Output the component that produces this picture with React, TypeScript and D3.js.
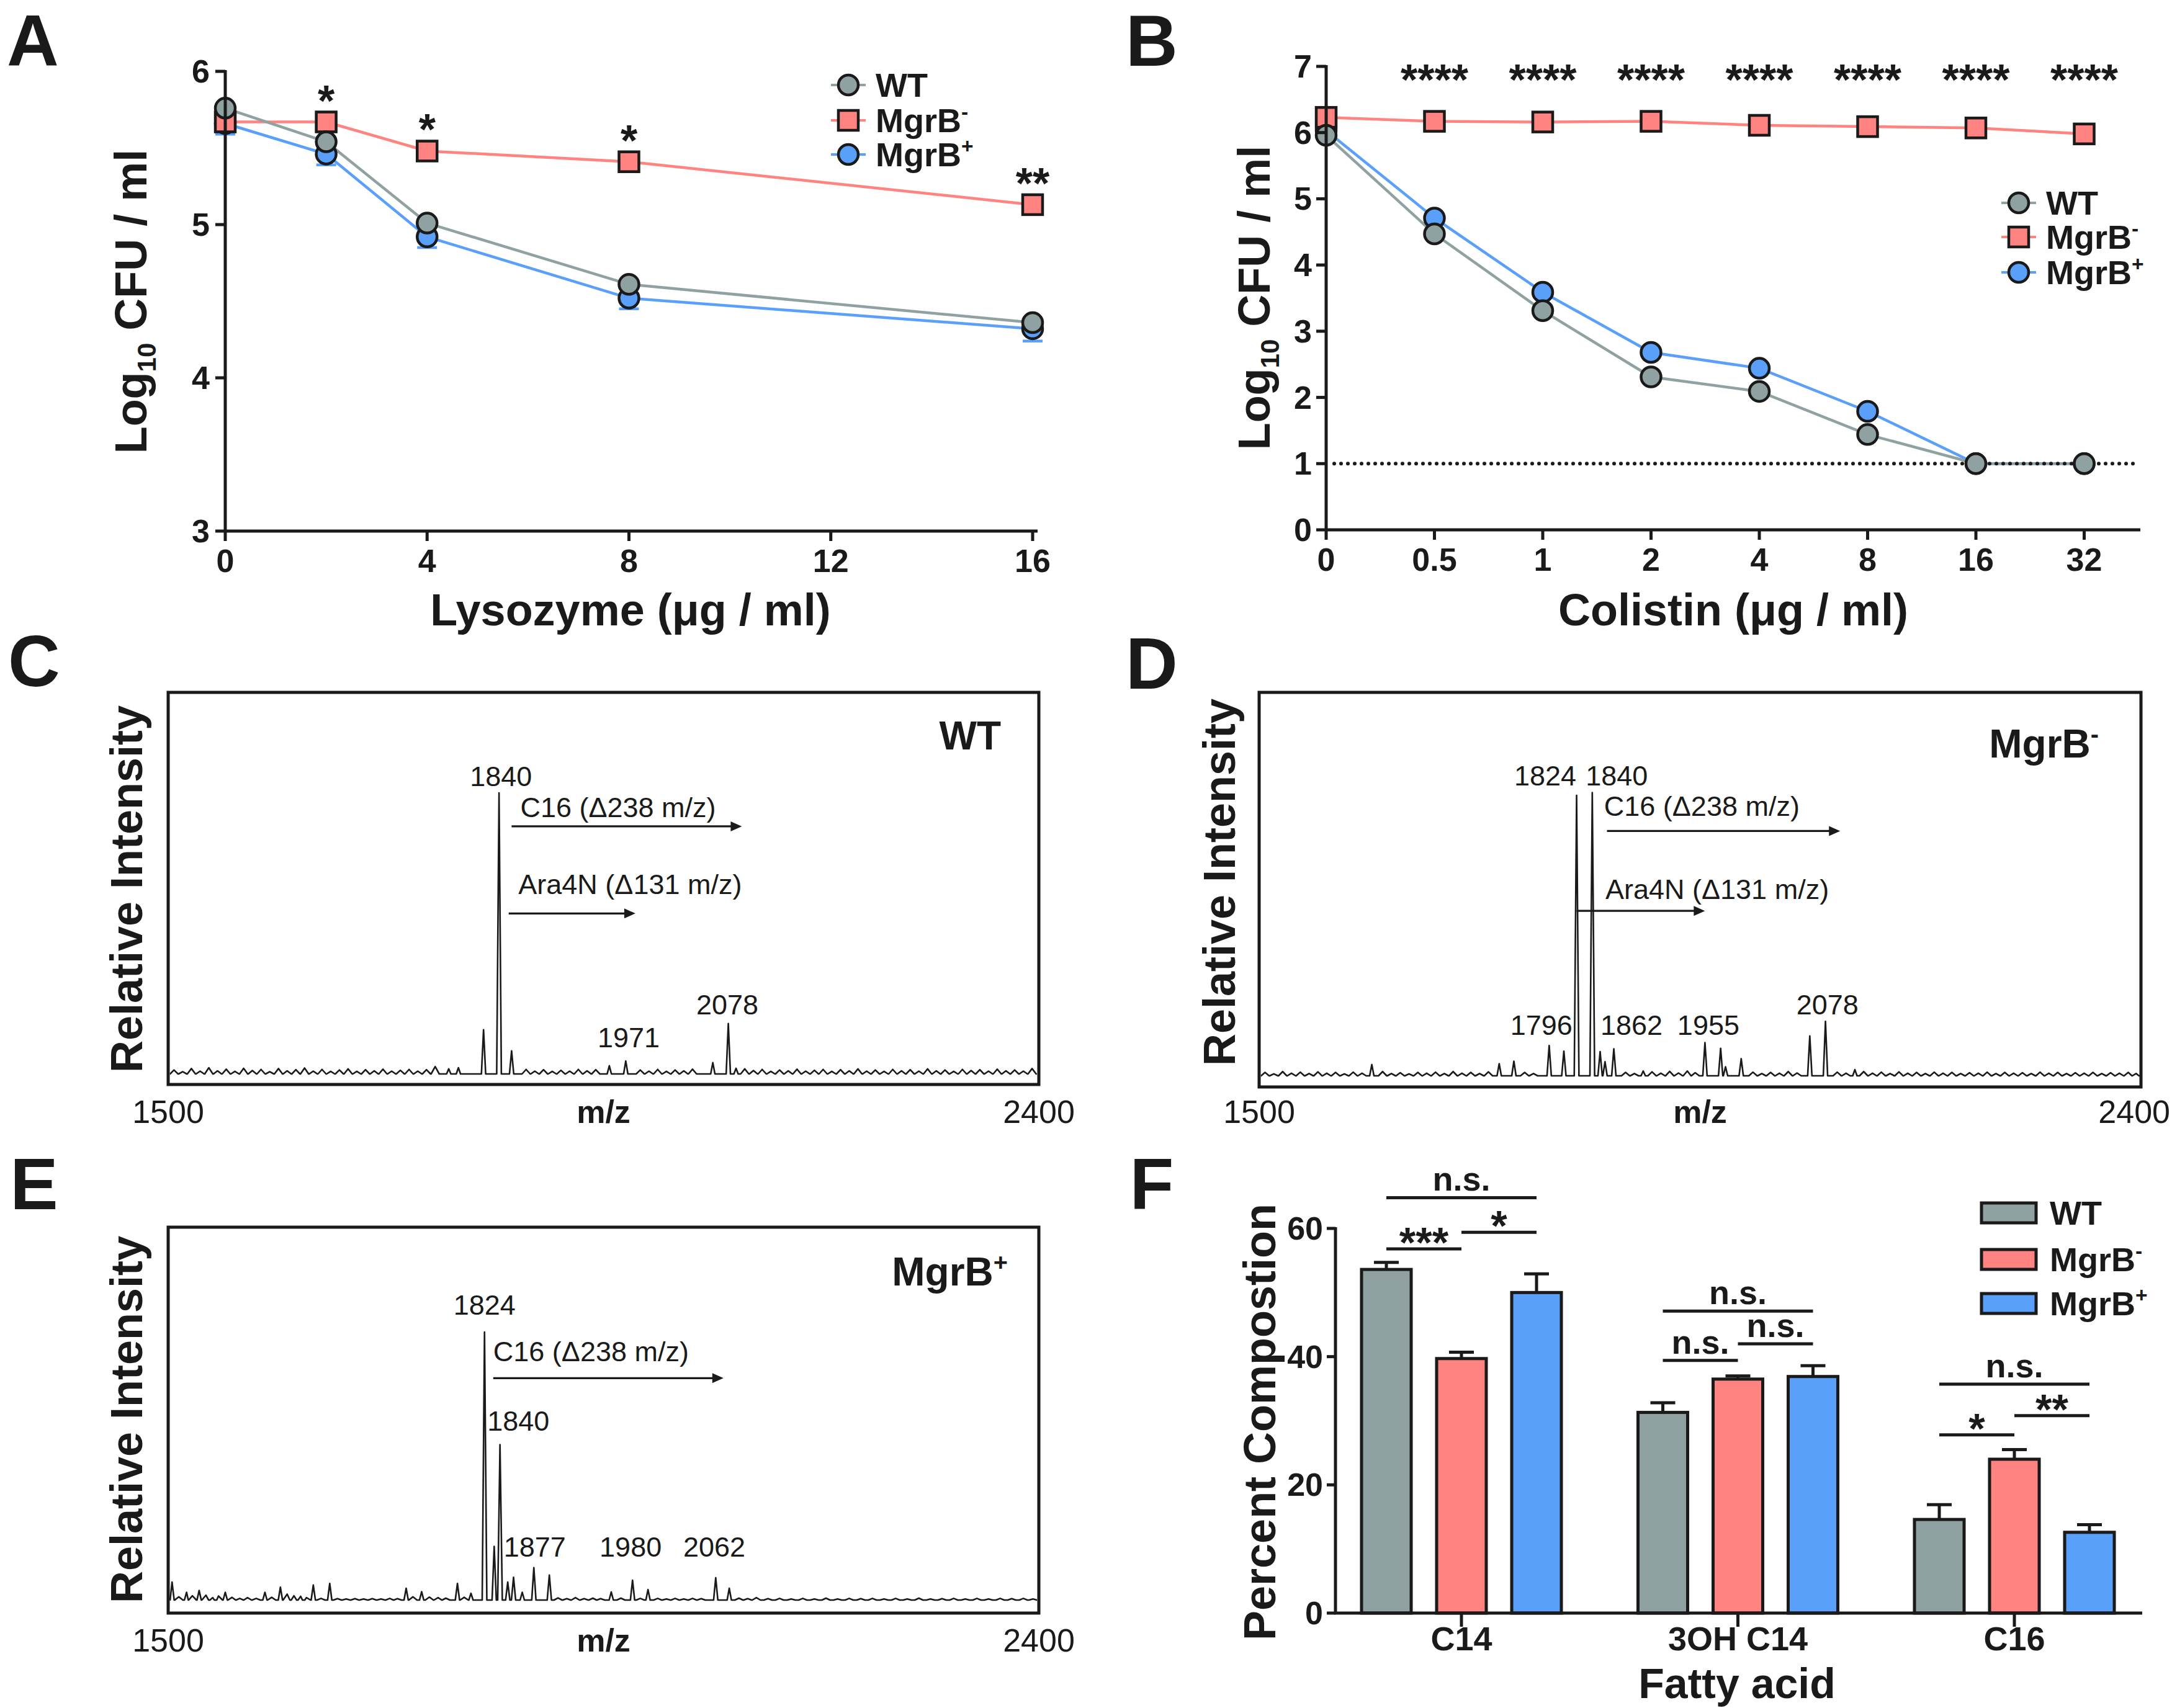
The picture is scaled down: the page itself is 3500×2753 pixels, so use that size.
import React from 'react';
import * as d3 from 'd3';

// ---------------- Panel A : lysozyme ----------------
const lysozymeDoses = [0, 2, 4, 8, 16];
const lysozymeWT = [5.76, 5.54, 5.01, 4.61, 4.36];
const lysozymeMgrBminus = [5.67, 5.67, 5.48, 5.41, 5.13];
const lysozymeMgrBplus = [5.66, 5.46, 4.92, 4.52, 4.32];
const lysozymeMgrBplusErr = [0.07, 0.07, 0.07, 0.07, 0.08];
const lysozymeStars = ['', '*', '*', '*', '**'];
const lysozymeXTicks = [0, 4, 8, 12, 16];
const lysozymeYTicks = [3, 4, 5, 6];

// ---------------- Panel B : colistin ----------------
const colistinDoses = ['0', '0.5', '1', '2', '4', '8', '16', '32'];
const colistinWT = [5.96, 4.47, 3.31, 2.31, 2.09, 1.44, 1.0, 1.0];
const colistinMgrBminus = [6.23, 6.17, 6.16, 6.17, 6.11, 6.09, 6.07, 5.98];
const colistinMgrBplus = [6.03, 4.71, 3.59, 2.68, 2.44, 1.79, 1.0, 1.0];
const colistinStars = ['', '****', '****', '****', '****', '****', '****', '****'];
const colistinYTicks = [0, 1, 2, 3, 4, 5, 6, 7];
const detectionLimit = 1;

// ---------------- Spectra (m/z, relative intensity) ----------------
const spectrumWTPeaks: [number, number][] = [
  [1790, 1.8], [1800, 2.2], [1826, 15.7], [1842, 100], [1855, 8.2],
  [1956, 2.9], [1973, 4.6], [2063, 4.0], [2079, 17.9], [2087, 2.0],
];
const spectrumWTNoise: [number, number][] = [
  [1506, 1.4], [1515, 0.8], [1524, 1.9], [1533, 1.0], [1542, 2.2], [1551, 1.1], [1560, 1.7], [1569, 0.9],
  [1578, 2.0], [1587, 1.2], [1596, 1.6], [1605, 0.8], [1614, 1.9], [1623, 1.1], [1632, 1.5], [1641, 2.1],
  [1650, 1.0], [1659, 1.6], [1668, 0.9], [1677, 1.4], [1686, 1.8], [1695, 0.9], [1704, 1.5], [1713, 1.1],
  [1722, 1.7], [1731, 1.0], [1740, 1.3], [1749, 1.6], [1758, 1.0], [1767, 1.5], [1776, 2.6], [1870, 1.6],
  [1879, 1.0], [1888, 1.5], [1897, 0.9], [1906, 1.3], [1915, 1.0], [1924, 1.6], [1933, 1.1], [1942, 1.5],
  [1988, 1.4], [1997, 1.0], [2006, 1.6], [2015, 0.9], [2024, 1.4], [2033, 1.1], [2042, 1.7], [2096, 1.8],
  [2105, 1.2], [2114, 1.6], [2123, 0.9], [2132, 1.4], [2141, 1.1], [2150, 1.7], [2159, 1.0], [2168, 1.3],
  [2177, 1.6], [2186, 0.9], [2195, 1.5], [2204, 1.1], [2213, 1.8], [2222, 1.0], [2231, 1.4], [2240, 0.9],
  [2249, 1.6], [2258, 1.1], [2267, 1.5], [2276, 1.0], [2285, 1.8], [2294, 1.1], [2303, 1.4], [2312, 0.9],
  [2321, 1.6], [2330, 1.2], [2339, 1.5], [2348, 1.0], [2357, 1.7], [2366, 1.1], [2375, 1.4], [2384, 1.0],
  [2393, 1.9],
];

const spectrumMinusPeaks: [number, number][] = [
  [1615, 4.0], [1745, 4.3], [1760, 5.2], [1796, 10.8], [1811, 8.8], [1824, 100], [1840, 101],
  [1848, 8.6], [1853, 5.0], [1862, 9.6], [1892, 1.7], [1955, 11.8], [1971, 9.8], [1976, 3.2],
  [1992, 6.1], [2062, 14.2], [2078, 19.4], [2108, 2.2],
];
const spectrumMinusNoise: [number, number][] = [
  [1506, 1.2], [1515, 0.7], [1524, 1.5], [1533, 0.9], [1542, 1.3], [1551, 0.8], [1560, 1.4], [1569, 0.9],
  [1578, 1.2], [1587, 0.7], [1596, 1.3], [1605, 0.9], [1626, 1.5], [1635, 0.8], [1644, 1.1], [1653, 0.7],
  [1662, 1.2], [1671, 0.9], [1680, 1.3], [1689, 0.8], [1698, 1.5], [1707, 0.9], [1716, 1.2], [1725, 0.8],
  [1734, 1.4], [1771, 1.2], [1780, 0.8], [1874, 1.2], [1883, 0.8], [1901, 1.4], [1910, 0.9], [1919, 1.6],
  [1928, 1.0], [1937, 1.7], [1945, 1.1], [2004, 1.3], [2013, 0.8], [2022, 1.2], [2031, 0.9], [2040, 1.5],
  [2049, 1.0], [2090, 1.3], [2099, 0.9], [2117, 1.5], [2126, 0.9], [2135, 1.3], [2144, 0.8], [2153, 1.4],
  [2162, 0.9], [2171, 1.2], [2180, 0.8], [2189, 1.3], [2198, 0.9], [2207, 1.2], [2216, 0.8], [2225, 1.1],
  [2234, 0.9], [2243, 1.3], [2252, 0.8], [2261, 1.2], [2270, 0.9], [2279, 1.1], [2288, 0.8], [2297, 1.3],
  [2306, 0.9], [2315, 1.2], [2324, 0.8], [2333, 1.1], [2342, 0.9], [2351, 1.2], [2360, 0.8], [2369, 1.1],
  [2378, 0.9], [2387, 1.2], [2395, 0.8],
];

const spectrumPlusPeaks: [number, number][] = [
  [1504, 6.7], [1519, 2.9], [1532, 3.6], [1559, 2.9], [1600, 2.9], [1616, 4.8], [1650, 5.6], [1667, 6.2],
  [1746, 4.4], [1762, 3.1], [1799, 6.2], [1813, 2.5], [1827, 100], [1837, 20], [1843, 58], [1851, 6.7],
  [1857, 8.5], [1866, 2.9], [1878, 12.1], [1894, 9.3], [1958, 3.0], [1980, 7.4], [1996, 3.9],
  [2066, 8.3], [2080, 4.4],
];
const spectrumPlusNoise: [number, number][] = [
  [1511, 1.2], [1525, 1.6], [1539, 1.8], [1546, 0.9], [1552, 1.5], [1566, 1.0], [1574, 0.6], [1582, 0.9],
  [1591, 0.6], [1607, 1.0], [1623, 2.2], [1630, 1.6], [1637, 1.4], [1643, 0.9], [1658, 0.6], [1675, 0.5],
  [1684, 0.4], [1693, 0.5], [1702, 0.4], [1711, 0.5], [1720, 0.4], [1729, 0.6], [1737, 0.5], [1753, 1.2],
  [1770, 1.1], [1779, 0.9], [1787, 0.7], [1806, 1.0], [1903, 0.8], [1912, 0.5], [1921, 0.9], [1930, 0.5],
  [1939, 0.7], [1947, 0.5], [1968, 0.7], [1988, 0.6], [2006, 0.6], [2015, 0.4], [2024, 0.6], [2033, 0.4],
  [2042, 0.6], [2051, 0.5], [2090, 0.7], [2099, 0.5], [2108, 0.9], [2120, 0.5], [2132, 0.6], [2144, 0.4],
  [2156, 0.6], [2168, 0.4], [2180, 0.7], [2192, 0.4], [2204, 0.6], [2216, 0.5], [2228, 0.6], [2240, 0.4],
  [2252, 0.6], [2264, 0.4], [2276, 0.7], [2288, 0.4], [2300, 0.5], [2312, 0.6], [2324, 0.4], [2336, 0.6],
  [2348, 0.4], [2360, 0.6], [2372, 0.5], [2384, 0.6], [2394, 0.4],
];

// ---------------- Panel F : fatty acids ----------------
const fattyAcids = ['C14', '3OH C14', 'C16'];
const strains = ['WT', 'MgrB-', 'MgrB+'];
const compositionWT = [53.6, 31.3, 14.6];
const compositionWTErr = [1.1, 1.5, 2.3];
const compositionMinus = [39.7, 36.5, 24.0];
const compositionMinusErr = [1.0, 0.5, 1.5];
const compositionPlus = [50.0, 36.9, 12.6];
const compositionPlusErr = [2.9, 1.7, 1.2];
const compositionYTicks = [0, 20, 40, 60];
const compositionBrackets = [
  { group: 'C14', from: 'WT', to: 'MgrB+', level: 64.8, label: 'n.s.' },
  { group: 'C14', from: 'WT', to: 'MgrB-', level: 56.8, label: '***' },
  { group: 'C14', from: 'MgrB-', to: 'MgrB+', level: 59.4, label: '*' },
  { group: '3OH C14', from: 'WT', to: 'MgrB+', level: 47.1, label: 'n.s.' },
  { group: '3OH C14', from: 'WT', to: 'MgrB-', level: 39.4, label: 'n.s.' },
  { group: '3OH C14', from: 'MgrB-', to: 'MgrB+', level: 42.0, label: 'n.s.' },
  { group: 'C16', from: 'WT', to: 'MgrB+', level: 35.7, label: 'n.s.' },
  { group: 'C16', from: 'WT', to: 'MgrB-', level: 27.8, label: '*' },
  { group: 'C16', from: 'MgrB-', to: 'MgrB+', level: 30.8, label: '**' },
];

// ---------------- styles ----------------
const FONT = "'Liberation Sans', Arial, Helvetica, sans-serif";
const INK = '#1a1a1a';
const GRAY = '#8fa2a1';
const RED = '#ff8380';
const BLUE = '#5a9ff9';
const colorOf: Record<string, string> = { 'WT': GRAY, 'MgrB-': RED, 'MgrB+': BLUE };

function StrainText({ name, fs }: { name: string; fs: number }) {
  const last = name[name.length - 1];
  if (last === '-' || last === '+') {
    return (
      <>
        {name.slice(0, -1)}
        <tspan dy={-fs * 0.38} fontSize={fs * 0.62}>{last}</tspan>
      </>
    );
  }
  return <>{name}</>;
}

function Marker({ shape, x, y, fill }: { shape: string; x: number; y: number; fill: string }) {
  if (shape === 'square') {
    return <rect x={x - 16} y={y - 16} width={32} height={32} fill={fill} stroke={INK} strokeWidth={4.5} />;
  }
  return <circle cx={x} cy={y} r={16} fill={fill} stroke={INK} strokeWidth={4.5} />;
}

function PanelLetter({ t, x, y }: { t: string; x: number; y: number }) {
  return (
    <text x={x} y={y} fontSize={116} fontWeight={700} textAnchor="middle" fill={INK}>{t}</text>
  );
}

function YTitleLog({ x, y }: { x: number; y: number }) {
  return (
    <text transform={`translate(${x},${y}) rotate(-90)`} textAnchor="middle" fontSize={72} fontWeight={700} fill={INK}>
      Log<tspan dy={15} fontSize={42}>10</tspan><tspan dy={-15}> CFU / ml</tspan>
    </text>
  );
}

function LineLegend({ x, ys, items }: { x: number; ys: number[]; items: { name: string; shape: string }[] }) {
  return (
    <g>
      {items.map((it, i) => (
        <g key={it.name}>
          <line x1={x - 28} x2={x + 28} y1={ys[i]} y2={ys[i]} stroke={colorOf[it.name]} strokeWidth={4} />
          <Marker shape={it.shape} x={x} y={ys[i]} fill={colorOf[it.name]} />
          <text x={x + 44} y={ys[i] + 19} fontSize={54} fontWeight={700} fill={INK}>
            <StrainText name={it.name} fs={54} />
          </text>
        </g>
      ))}
    </g>
  );
}

function PanelA() {
  const x = d3.scaleLinear().domain([0, 16]).range([363, 1664]);
  const y = d3.scaleLinear().domain([3, 6]).range([856, 115]);
  const series = [
    { name: 'MgrB+', vals: lysozymeMgrBplus, shape: 'circle', err: lysozymeMgrBplusErr },
    { name: 'MgrB-', vals: lysozymeMgrBminus, shape: 'square', err: null as number[] | null },
    { name: 'WT', vals: lysozymeWT, shape: 'circle', err: null as number[] | null },
  ];
  const line = (vals: number[]) =>
    d3.line<number>().x((_, i) => x(lysozymeDoses[i])).y((d) => y(d))(vals) || '';
  return (
    <g>
      {series.map((s) => (
        <path key={s.name} d={line(s.vals)} fill="none" stroke={colorOf[s.name]} strokeWidth={4.5} />
      ))}
      {series.map((s) =>
        s.err
          ? s.vals.map((v, i) => (
              <g key={s.name + i} stroke={colorOf[s.name]} strokeWidth={4.5}>
                <line x1={x(lysozymeDoses[i])} x2={x(lysozymeDoses[i])} y1={y(v - s.err![i])} y2={y(v + s.err![i])} />
                <line x1={x(lysozymeDoses[i]) - 16} x2={x(lysozymeDoses[i]) + 16} y1={y(v - s.err![i])} y2={y(v - s.err![i])} />
              </g>
            ))
          : null
      )}
      {series.map((s) =>
        s.vals.map((v, i) => (
          <Marker key={s.name + 'm' + i} shape={s.shape} x={x(lysozymeDoses[i])} y={y(v)} fill={colorOf[s.name]} />
        ))
      )}
      {lysozymeStars.map((st, i) =>
        st ? (
          <text key={'st' + i} x={x(lysozymeDoses[i])} y={y(lysozymeMgrBminus[i]) - 50 + 40} fontSize={70} fontWeight={700} textAnchor="middle" fill={INK}>{st}</text>
        ) : null
      )}
      <line x1={363} x2={363} y1={y(3)} y2={y(6) - 2} stroke={INK} strokeWidth={5} />
      <line x1={361} x2={1672} y1={y(3)} y2={y(3)} stroke={INK} strokeWidth={5} />
      {lysozymeYTicks.map((t) => (
        <g key={'yt' + t}>
          <line x1={347} x2={363} y1={y(t)} y2={y(t)} stroke={INK} strokeWidth={5} />
          <text x={338} y={y(t) + 18} fontSize={52} fontWeight={700} textAnchor="end" fill={INK}>{t}</text>
        </g>
      ))}
      {lysozymeXTicks.map((t) => (
        <g key={'xt' + t}>
          <line x1={x(t)} x2={x(t)} y1={y(3)} y2={y(3) + 16} stroke={INK} strokeWidth={5} />
          <text x={x(t)} y={922} fontSize={52} fontWeight={700} textAnchor="middle" fill={INK}>{t}</text>
        </g>
      ))}
      <text x={1016} y={1008} fontSize={72} fontWeight={700} textAnchor="middle" fill={INK}>Lysozyme (μg / ml)</text>
      <YTitleLog x={236} y={486} />
      <LineLegend x={1367} ys={[137, 194, 249]} items={[{ name: 'WT', shape: 'circle' }, { name: 'MgrB-', shape: 'square' }, { name: 'MgrB+', shape: 'circle' }]} />
    </g>
  );
}

function PanelB() {
  const x = d3.scalePoint<string>().domain(colistinDoses).range([2137, 3358.5]);
  const y = d3.scaleLinear().domain([0, 7]).range([854, 107]);
  const series = [
    { name: 'MgrB+', vals: colistinMgrBplus, shape: 'circle' },
    { name: 'MgrB-', vals: colistinMgrBminus, shape: 'square' },
    { name: 'WT', vals: colistinWT, shape: 'circle' },
  ];
  const line = (vals: number[]) =>
    d3.line<number>().x((_, i) => x(colistinDoses[i])!).y((d) => y(d))(vals) || '';
  return (
    <g>
      {series.map((s) => (
        <path key={s.name} d={line(s.vals)} fill="none" stroke={colorOf[s.name]} strokeWidth={4.5} />
      ))}
      <line x1={2150} x2={3441} y1={y(detectionLimit)} y2={y(detectionLimit)} stroke={INK} strokeWidth={6} strokeDasharray="0 11" strokeLinecap="round" />
      {series.map((s) =>
        s.vals.map((v, i) => (
          <Marker key={s.name + 'm' + i} shape={s.shape} x={x(colistinDoses[i])!} y={y(v)} fill={colorOf[s.name]} />
        ))
      )}
      {colistinStars.map((st, i) =>
        st ? (
          <text key={'st' + i} x={x(colistinDoses[i])!} y={153} fontSize={70} fontWeight={700} textAnchor="middle" fill={INK}>{st}</text>
        ) : null
      )}
      <line x1={2137} x2={2137} y1={y(0)} y2={y(7) - 2} stroke={INK} strokeWidth={5} />
      <line x1={2135} x2={3449} y1={y(0)} y2={y(0)} stroke={INK} strokeWidth={5} />
      {colistinYTicks.map((t) => (
        <g key={'yt' + t}>
          <line x1={2121} x2={2137} y1={y(t)} y2={y(t)} stroke={INK} strokeWidth={5} />
          <text x={2114} y={y(t) + 18} fontSize={52} fontWeight={700} textAnchor="end" fill={INK}>{t}</text>
        </g>
      ))}
      {colistinDoses.map((t) => (
        <g key={'xt' + t}>
          <line x1={x(t)!} x2={x(t)!} y1={y(0)} y2={y(0) + 16} stroke={INK} strokeWidth={5} />
          <text x={x(t)!} y={920} fontSize={52} fontWeight={700} textAnchor="middle" fill={INK}>{t}</text>
        </g>
      ))}
      <text x={2793} y={1008} fontSize={72} fontWeight={700} textAnchor="middle" fill={INK}>Colistin (μg / ml)</text>
      <YTitleLog x={2046} y={480} />
      <LineLegend x={3253} ys={[327, 382, 439]} items={[{ name: 'WT', shape: 'circle' }, { name: 'MgrB-', shape: 'square' }, { name: 'MgrB+', shape: 'circle' }]} />
    </g>
  );
}

type Ann = { text: string; mz: number; i: number };
type Arr = { label: string; start: number; delta: number; i: number; labelMz: number; labelI: number };

function Spectrum(props: {
  box: { x0: number; x1: number; y0: number; y1: number };
  base: number; top: number; tickY: number; rightTickEnd?: number;
  peaks: [number, number][]; noise: [number, number][];
  labels: Ann[]; arrows: Arr[];
  title: string; titleRight: number; titleY: number;
  yLabelX: number; yLabelY: number;
}) {
  const { box } = props;
  const x = d3.scaleLinear().domain([1500, 2400]).range([box.x0, box.x1]);
  const y = d3.scaleLinear().domain([0, 100]).range([props.base, props.top]);
  const items = [
    ...props.peaks.map((p) => ({ mz: p[0], h: p[1], w: p[1] > 50 ? 2.4 : 2.2 })),
    ...props.noise.map((p) => ({ mz: p[0], h: p[1], w: 4.2 })),
  ].sort((a, b) => a.mz - b.mz);
  const pts: [number, number][] = [[1502, 0]];
  items.forEach((p) => {
    pts.push([p.mz - p.w, 0], [p.mz, p.h], [p.mz + p.w, 0]);
  });
  pts.push([2398, 0]);
  pts.sort((a, b) => a[0] - b[0]);
  const path = d3.line<[number, number]>().x((d) => x(d[0])).y((d) => y(d[1]))(pts) || '';
  return (
    <g>
      <rect x={box.x0} y={box.y0} width={box.x1 - box.x0} height={box.y1 - box.y0} fill="none" stroke={INK} strokeWidth={5} />
      <path d={path} fill="none" stroke={INK} strokeWidth={2.6} strokeLinejoin="round" />
      {props.labels.map((l) => (
        <text key={l.text + l.mz} x={x(l.mz)} y={y(l.i)} fontSize={45} textAnchor="middle" fill={INK}>{l.text}</text>
      ))}
      {props.arrows.map((a) => {
        const x1 = x(a.start), x2 = x(a.start + a.delta), yy = y(a.i);
        return (
          <g key={a.label}>
            <text x={x(a.labelMz)} y={y(a.labelI)} fontSize={45} fill={INK}>{a.label}</text>
            <line x1={x1} x2={x2 - 12} y1={yy} y2={yy} stroke={INK} strokeWidth={3.2} />
            <path d={`M${x2},${yy} L${x2 - 18},${yy - 8} L${x2 - 18},${yy + 8} Z`} fill={INK} />
          </g>
        );
      })}
      <text x={props.titleRight} y={props.titleY} fontSize={64} fontWeight={700} textAnchor="end" fill={INK}>
        <StrainText name={props.title} fs={64} />
      </text>
      <text x={box.x0} y={props.tickY} fontSize={52} textAnchor="middle" fill={INK}>1500</text>
      {props.rightTickEnd ? (
        <text x={props.rightTickEnd} y={props.tickY} fontSize={52} textAnchor="end" fill={INK}>2400</text>
      ) : (
        <text x={box.x1} y={props.tickY} fontSize={52} textAnchor="middle" fill={INK}>2400</text>
      )}
      <text x={(box.x0 + box.x1) / 2} y={props.tickY} fontSize={52} fontWeight={700} textAnchor="middle" fill={INK}>m/z</text>
      <text transform={`translate(${props.yLabelX},${props.yLabelY}) rotate(-90)`} fontSize={72} fontWeight={700} textAnchor="middle" fill={INK}>Relative Intensity</text>
    </g>
  );
}

function PanelF() {
  const xg = d3.scalePoint<string>().domain(fattyAcids).range([2355, 3246]);
  const xs = d3.scalePoint<string>().domain(strains).range([-121, 121]);
  const y = d3.scaleLinear().domain([0, 60]).range([2600, 1980]);
  const vals: Record<string, number[]> = { 'WT': compositionWT, 'MgrB-': compositionMinus, 'MgrB+': compositionPlus };
  const errs: Record<string, number[]> = { 'WT': compositionWTErr, 'MgrB-': compositionMinusErr, 'MgrB+': compositionPlusErr };
  const bw = 80;
  return (
    <g>
      {fattyAcids.map((g, gi) =>
        strains.map((s) => {
          const cx = xg(g)! + xs(s)!;
          const v = vals[s][gi];
          const e = errs[s][gi];
          return (
            <g key={g + s}>
              <line x1={cx} x2={cx} y1={y(v)} y2={y(v + e)} stroke={INK} strokeWidth={5} />
              <line x1={cx - 20} x2={cx + 20} y1={y(v + e)} y2={y(v + e)} stroke={INK} strokeWidth={5} />
              <rect x={cx - bw / 2} y={y(v)} width={bw} height={y(0) - y(v)} fill={colorOf[s]} stroke={INK} strokeWidth={5} />
            </g>
          );
        })
      )}
      {compositionBrackets.map((b, i) => {
        const x1 = xg(b.group)! + xs(b.from)!;
        const x2 = xg(b.group)! + xs(b.to)!;
        const yy = y(b.level);
        const isStar = b.label.includes('*');
        return (
          <g key={'br' + i}>
            <line x1={x1} x2={x2} y1={yy} y2={yy} stroke={INK} strokeWidth={5} />
            <text x={(x1 + x2) / 2} y={isStar ? yy - 26 + 39 : yy - 11} fontSize={isStar ? 68 : 54} fontWeight={700} textAnchor="middle" fill={INK}>{b.label}</text>
          </g>
        );
      })}
      <line x1={2152} x2={2152} y1={y(0)} y2={y(60) - 2} stroke={INK} strokeWidth={5} />
      <line x1={2150} x2={3452} y1={y(0)} y2={y(0)} stroke={INK} strokeWidth={5} />
      {compositionYTicks.map((t) => (
        <g key={'yt' + t}>
          <line x1={2138} x2={2152} y1={y(t)} y2={y(t)} stroke={INK} strokeWidth={5} />
          <text x={2132} y={y(t) + 18} fontSize={52} fontWeight={700} textAnchor="end" fill={INK}>{t}</text>
        </g>
      ))}
      {fattyAcids.map((g) => (
        <g key={'xt' + g}>
          <line x1={xg(g)!} x2={xg(g)!} y1={y(0)} y2={y(0) + 22} stroke={INK} strokeWidth={5} />
          <text x={xg(g)!} y={2660} fontSize={54} fontWeight={700} textAnchor="middle" fill={INK}>{g}</text>
        </g>
      ))}
      <text x={2799} y={2737} fontSize={68} fontWeight={700} textAnchor="middle" fill={INK}>Fatty acid</text>
      <text transform="translate(2055,2292) rotate(-90)" fontSize={72} fontWeight={700} textAnchor="middle" fill={INK}>Percent Compostion</text>
      {strains.map((s, i) => {
        const ly = [1955, 2030, 2101][i];
        return (
          <g key={'lg' + s}>
            <rect x={3193} y={ly - 16} width={88} height={32} fill={colorOf[s]} stroke={INK} strokeWidth={5} />
            <text x={3303} y={ly + 19} fontSize={54} fontWeight={700} fill={INK}>
              <StrainText name={s} fs={54} />
            </text>
          </g>
        );
      })}
    </g>
  );
}

export default function App() {
  return (
    <svg width={3500} height={2753} style={{ position: 'absolute', left: 0, top: 0, background: '#fff' }} fontFamily={FONT}>
      <rect x={0} y={0} width={3500} height={2753} fill="#fff" />
      <PanelLetter t="A" x={53} y={106} />
      <PanelLetter t="B" x={1856} y={106} />
      <PanelLetter t="C" x={55} y={1106} />
      <PanelLetter t="D" x={1856} y={1110} />
      <PanelLetter t="E" x={55} y={1949} />
      <PanelLetter t="F" x={1856} y={1949} />
      <PanelA />
      <PanelB />
      <Spectrum
        box={{ x0: 271, x1: 1674, y0: 1116, y1: 1748 }} base={1731} top={1278} tickY={1810}
        peaks={spectrumWTPeaks} noise={spectrumWTNoise}
        labels={[{ text: '1840', mz: 1844, i: 102.4 }, { text: '1971', mz: 1976, i: 9.5 }, { text: '2078', mz: 2078, i: 21.3 }]}
        arrows={[
          { label: 'C16 (Δ238 m/z)', start: 1855, delta: 238, i: 88.1, labelMz: 1864, labelI: 91.4 },
          { label: 'Ara4N (Δ131 m/z)', start: 1852, delta: 131, i: 57.1, labelMz: 1862, labelI: 64.1 },
        ]}
        title="WT" titleRight={1613} titleY={1208} yLabelX={229} yLabelY={1433}
      />
      <Spectrum
        box={{ x0: 2029, x1: 3450, y0: 1116, y1: 1752 }} base={1734} top={1282} tickY={1810} rightTickEnd={3497}
        peaks={spectrumMinusPeaks} noise={spectrumMinusNoise}
        labels={[
          { text: '1824', mz: 1792, i: 103.5 }, { text: '1840', mz: 1865, i: 103.5 },
          { text: '1796', mz: 1788, i: 14.7 }, { text: '1862', mz: 1880, i: 14.7 },
          { text: '1955', mz: 1958.5, i: 14.7 }, { text: '2078', mz: 2080, i: 22.0 },
        ]}
        arrows={[
          { label: 'C16 (Δ238 m/z)', start: 1855, delta: 238, i: 87.3, labelMz: 1852, labelI: 92.6 },
          { label: 'Ara4N (Δ131 m/z)', start: 1824, delta: 131, i: 58.8, labelMz: 1853.4, labelI: 63 },
        ]}
        title="MgrB-" titleRight={3382} titleY={1221} yLabelX={1990} yLabelY={1422}
      />
      <Spectrum
        box={{ x0: 271, x1: 1674, y0: 1978, y1: 2600 }} base={2579} top={2147} tickY={2662}
        peaks={spectrumPlusPeaks} noise={spectrumPlusNoise}
        labels={[
          { text: '1824', mz: 1827, i: 106.5 }, { text: '1840', mz: 1862, i: 63.2 },
          { text: '1877', mz: 1879, i: 16.1 }, { text: '1980', mz: 1978, i: 16.1 }, { text: '2062', mz: 2064.5, i: 16.1 },
        ]}
        arrows={[{ label: 'C16 (Δ238 m/z)', start: 1836, delta: 238, i: 82.8, labelMz: 1836, labelI: 89.1 }]}
        title="MgrB+" titleRight={1624} titleY={2072} yLabelX={229} yLabelY={2288}
      />
      <PanelF />
    </svg>
  );
}
